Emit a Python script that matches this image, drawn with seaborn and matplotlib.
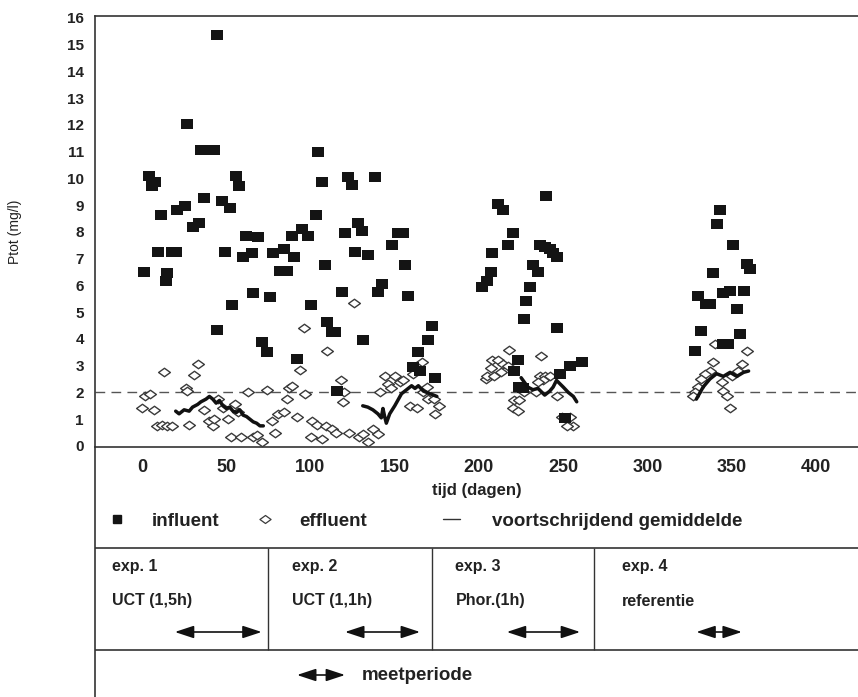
import numpy as np
import pandas as pd
import seaborn as sns
import matplotlib.pyplot as plt
from matplotlib.lines import Line2D
from matplotlib.path import Path

# influent (dag, Ptot mg/l)
influent_dag = [1, 4, 8, 6, 9.5, 11, 15, 14, 18, 20, 21, 25.5, 27, 30, 34, 35, 39, 43, 37, 44.5,
                47.5, 52, 44.5, 49, 53.5, 56, 57.5, 60, 65, 62, 69, 66, 76, 71, 74,
                78, 84, 90, 82, 86, 89, 95, 98.5, 103, 104.5, 107, 100, 92, 108.5, 110, 113, 114.5,
                118.5, 120.5, 115.5, 122, 124.5, 128, 130.5, 126.5, 134, 138, 131, 140, 142.5,
                148.5, 152, 155, 156, 158, 164, 161, 165, 169.5, 172, 174,
                240, 211, 214, 220, 217, 208, 207, 205, 202, 236, 239, 242, 244, 246, 232, 235,
                230, 228, 227, 246.5, 223, 220.5, 224, 226, 248, 254, 261, 251,
                343, 341, 351, 359, 361, 339, 330, 335, 337, 345, 349, 357, 353, 332, 355, 328, 345, 348]
influent_ptot = [6.5, 10.1, 9.85, 9.7, 7.25, 8.65, 6.45, 6.15, 7.25, 7.25, 8.8, 8.95, 12.05, 8.2, 8.35, 11.05, 11.05, 11.05, 9.25, 15.35,
                 9.15, 8.9, 4.35, 7.25, 5.25, 10.1, 9.7, 7.05, 7.2, 7.85, 7.8, 5.7, 5.55, 3.9, 3.5,
                 7.2, 7.35, 7.05, 6.55, 6.55, 7.85, 8.1, 7.85, 8.65, 11.0, 9.85, 5.25, 3.25, 6.75, 4.65, 4.25, 4.25,
                 5.75, 7.95, 2.05, 10.05, 9.75, 8.35, 8.05, 7.25, 7.15, 10.05, 3.95, 5.75, 6.05,
                 7.5, 7.95, 7.95, 6.75, 5.6, 3.5, 2.95, 2.8, 3.95, 4.5, 2.55,
                 9.35, 9.05, 8.8, 7.95, 7.5, 7.2, 6.5, 6.15, 5.95, 7.5, 7.45, 7.35, 7.2, 7.05, 6.75, 6.5,
                 5.95, 5.4, 4.75, 4.4, 3.2, 2.8, 2.2, 2.15, 2.7, 3.0, 3.15, 1.05,
                 8.8, 8.3, 7.5, 6.8, 6.6, 6.45, 5.6, 5.3, 5.3, 5.7, 5.8, 5.8, 5.1, 4.3, 4.2, 3.55, 3.8, 3.8]

# effluent (dag, Ptot mg/l)
effluent_dag = [0, 2, 5, 7, 9, 12, 13, 15, 18, 26, 27, 28, 31, 33, 37, 40, 42, 43, 45, 48, 51, 53, 55,
                57, 59, 63, 66, 68, 71, 74, 77,
                79, 81, 84, 86, 87, 89, 92, 94, 96, 97, 100, 101, 104, 107, 109, 110, 113, 115, 118, 119,
                120, 123, 126, 129, 131, 134, 137, 140, 141, 144, 146, 148, 150, 153, 155, 159, 161, 163,
                166, 167, 169, 170, 173, 174, 176,
                218, 208, 211, 214, 217, 207, 213, 204, 205, 209, 237, 236, 239, 242, 238, 235, 246,
                221, 224, 220, 223, 249, 254, 256, 252, 227, 234,
                340, 359, 339, 356, 337, 334, 354, 332, 330, 350, 344, 345, 328, 347, 327, 349]
effluent_ptot = [1.4, 1.85, 1.95, 1.35, 0.75, 0.8, 2.75, 0.75, 0.75, 2.15, 2.05, 0.8, 2.65, 3.05, 1.35, 0.95, 0.75, 1.0, 1.75, 1.4, 1.0, 0.35, 1.55,
                 1.25, 0.35, 2.0, 0.35, 0.4, 0.15, 2.1, 0.95,
                 0.5, 1.2, 1.25, 1.75, 2.15, 2.25, 1.1, 2.85, 4.4, 1.95, 0.35, 0.95, 0.8, 0.25, 0.75, 3.55, 0.65, 0.5, 2.45, 1.65,
                 2.0, 0.5, 5.35, 0.35, 0.45, 0.15, 0.65, 0.45, 2.0, 2.6, 2.3, 2.15, 2.6, 2.4, 2.45, 1.5, 2.7, 1.4,
                 3.15, 2.0, 2.2, 1.75, 1.75, 1.2, 1.5,
                 3.6, 3.2, 3.2, 3.05, 3.0, 2.9, 2.75, 2.5, 2.6, 2.6, 3.35, 2.6, 2.6, 2.6, 2.45, 2.4, 1.85,
                 1.7, 1.7, 1.4, 1.3, 1.1, 1.1, 0.75, 0.75, 2.0, 2.0,
                 3.8, 3.55, 3.15, 3.05, 2.8, 2.7, 2.8, 2.5, 2.2, 2.6, 2.4, 2.05, 2.0, 1.85, 1.85, 1.4]

# voortschrijdend gemiddelde per experiment
ma1_dag = [20, 22, 25, 28, 30, 33, 35, 38, 40, 42, 44, 46, 48, 50, 52, 54, 56, 58, 60, 62, 64, 66, 68, 70, 72]
ma1_ptot = [1.3, 1.2, 1.35, 1.3, 1.45, 1.55, 1.65, 1.75, 1.85, 1.75, 1.6, 1.7, 1.5, 1.4, 1.45, 1.3, 1.25, 1.35,
            1.15, 1.1, 1.0, 0.9, 0.85, 0.75, 0.75]
ma2_dag = [131, 134, 137, 140, 142, 143, 144, 145, 147, 150, 154, 157, 160, 162, 164, 167, 171, 175]
ma2_ptot = [1.5, 1.45, 1.35, 1.2, 1.05, 1.4, 1.1, 0.85, 1.2, 1.5, 1.95, 2.1, 2.25, 2.15, 2.25, 2.05, 1.95, 1.85]
ma3_dag = [225, 229, 232, 235, 239, 242, 244, 246, 250, 253, 256, 258]
ma3_ptot = [2.55, 2.2, 2.1, 2.15, 1.9, 2.05, 2.2, 2.45, 2.2, 2.0, 1.85, 1.65]
ma4_dag = [329, 333, 337, 341, 345, 349, 353, 357, 360]
ma4_ptot = [1.75, 2.2, 2.5, 2.7, 2.6, 2.75, 2.6, 2.75, 2.8]

norm_ptot = 2.0

# experimenten onder de grafiek
exp_namen = ["exp. 1", "exp. 2", "exp. 3", "exp. 4"]
exp_omschrijving = ["UCT (1,5h)", "UCT (1,1h)", "Phor.(1h)", "referentie"]
exp_grens = [75, 172, 268]
meetperiode_start = [19.5, 120.5, 216.5, 329]
meetperiode_eind = [71, 165, 260, 356]

sns.set_style("white")
plt.rcParams['font.family'] = ['Liberation Sans', 'DejaVu Sans']

df_in = pd.DataFrame({"dag": influent_dag, "ptot": influent_ptot})
df_eff = pd.DataFrame({"dag": effluent_dag, "ptot": effluent_ptot})
df_ma = pd.concat([
    pd.DataFrame({"dag": d, "ptot": p, "exp": i})
    for i, (d, p) in enumerate([(ma1_dag, ma1_ptot), (ma2_dag, ma2_ptot),
                                (ma3_dag, ma3_ptot), (ma4_dag, ma4_ptot)])
])

rect = Path([(-1, -0.77), (1, -0.77), (1, 0.77), (-1, 0.77), (-1, -0.77)], closed=True)
ruit = Path([(-1, 0), (0, -0.72), (1, 0), (0, 0.72), (-1, 0)], closed=True)

W, H = 858, 697
fig = plt.figure(figsize=(W / 100, H / 100), dpi=100)
x_left, x_right = 95, 858
y_top, y_axis = 16, 447
px_per_dag = 1.685
x0 = 142
xlim = ((x_left - x0) / px_per_dag, (x_right - x0) / px_per_dag)

ax = fig.add_axes([x_left / W, (H - y_axis) / H, (x_right - x_left) / W, (y_axis - y_top) / H])

sns.scatterplot(data=df_eff, x="dag", y="ptot", marker=ruit, s=72, facecolor="white",
                edgecolor="#3a3a3a", linewidth=1.0, ax=ax, zorder=3)
sns.scatterplot(data=df_in, x="dag", y="ptot", marker=rect, s=75, color="#141414",
                edgecolor="#141414", linewidth=0, ax=ax, zorder=4)
sns.lineplot(data=df_ma, x="dag", y="ptot", units="exp", estimator=None, sort=False,
             color="#111111", lw=2.5, ax=ax, zorder=5)
ax.axhline(norm_ptot, ls=(0, (7, 4.5)), color="#555555", lw=1.0, zorder=2)

ax.set_xlim(*xlim)
ax.set_ylim(-0.04, 16.07)
ax.set_xticks(np.arange(0, 401, 50))
ax.set_yticks(np.arange(0, 17, 1))
ax.tick_params(axis="both", direction="in", length=10, width=1, color="#333333")
ax.tick_params(axis="y", labelsize=11, pad=8)
ax.tick_params(axis="x", labelsize=13, pad=9)
for lab in ax.get_xticklabels() + ax.get_yticklabels():
    lab.set_fontweight("bold")
    lab.set_color("#222222")
for k, s in ax.spines.items():
    s.set_linewidth(1.2)
    s.set_color("#333333")
ax.spines["right"].set_visible(False)

ax.set_ylabel("Ptot (mg/l)", fontsize=10, color="#222222")
ax.yaxis.set_label_coords(-(x_left - 22) / (x_right - x_left), 0.5)
ax.set_xlabel("tijd (dagen)", fontsize=12, fontweight="bold", color="#222222")
ax.xaxis.set_label_coords(0.5, -(483 - y_axis) / (y_axis - y_top))

# onderste paneel
ax2 = fig.add_axes([x_left / W, 0, (x_right - x_left) / W, (H - y_axis) / H])
ax2.set_facecolor("none")
ax2.set_xlim(*xlim)
ax2.set_ylim(H - y_axis, 0)
ax2.set_xticks([])
ax2.set_yticks([])
for k in ["top", "bottom", "right"]:
    ax2.spines[k].set_visible(False)
ax2.spines["left"].set_linewidth(1.2)
ax2.spines["left"].set_color("#333333")

ax2.axhline(101, color="#333333", lw=1.2)
ax2.axhline(203, color="#333333", lw=1.2)
ax2.vlines(exp_grens, 101, 203, color="#333333", lw=1.0)

tekst_x = [xlim[0] + 10, exp_grens[0] + 14, exp_grens[1] + 14, exp_grens[2] + 17]
for tx, naam, oms in zip(tekst_x, exp_namen, exp_omschrijving):
    ax2.text(tx, 120, naam, fontsize=11.5, fontweight="bold", va="center", color="#222222")
    ax2.text(tx, 154, oms, fontsize=11.5, fontweight="bold", va="center", color="#222222")

pijl = dict(arrowstyle="<|-|>,head_length=1.0,head_width=0.33", mutation_scale=11.5,
            lw=1.2, color="#111111", shrinkA=0, shrinkB=0)
for a, b in zip(meetperiode_start, meetperiode_eind):
    ax2.annotate("", xy=(a, 185), xytext=(b, 185), arrowprops=pijl)
ax2.annotate("", xy=(92, 228), xytext=(120.5, 228), arrowprops=pijl)
ax2.text(130.5, 228, "meetperiode", fontsize=13.5, fontweight="bold", va="center", color="#222222")

h_in = Line2D([], [], marker="s", ls="", color="#141414", markersize=6)
h_eff = Line2D([], [], marker=ruit, ls="", markerfacecolor="white", markeredgecolor="#3a3a3a",
               markeredgewidth=0.9, markersize=8)
h_ma = Line2D([], [], color="#333333", lw=1.0)
leg_y = 1 - 74 / (H - y_axis)
leg1 = ax2.legend([h_in, h_eff], ["influent", "effluent"],
                  loc="center left", bbox_to_anchor=((108 - x_left) / (x_right - x_left), leg_y),
                  ncol=2, frameon=False, borderpad=0, borderaxespad=0, handlelength=1.0,
                  handletextpad=1.35, columnspacing=1.9, prop={"size": 13.5, "weight": "bold"})
ax2.add_artist(leg1)
leg2 = ax2.legend([h_ma], ["voortschrijdend gemiddelde"],
                  loc="center left", bbox_to_anchor=((443 - x_left) / (x_right - x_left), leg_y),
                  frameon=False, borderpad=0, borderaxespad=0, handlelength=0.9,
                  handletextpad=1.7, prop={"size": 13.5, "weight": "bold"})
for leg in (leg1, leg2):
    for t in leg.get_texts():
        t.set_color("#222222")

fig.savefig("out.png", dpi=100)
